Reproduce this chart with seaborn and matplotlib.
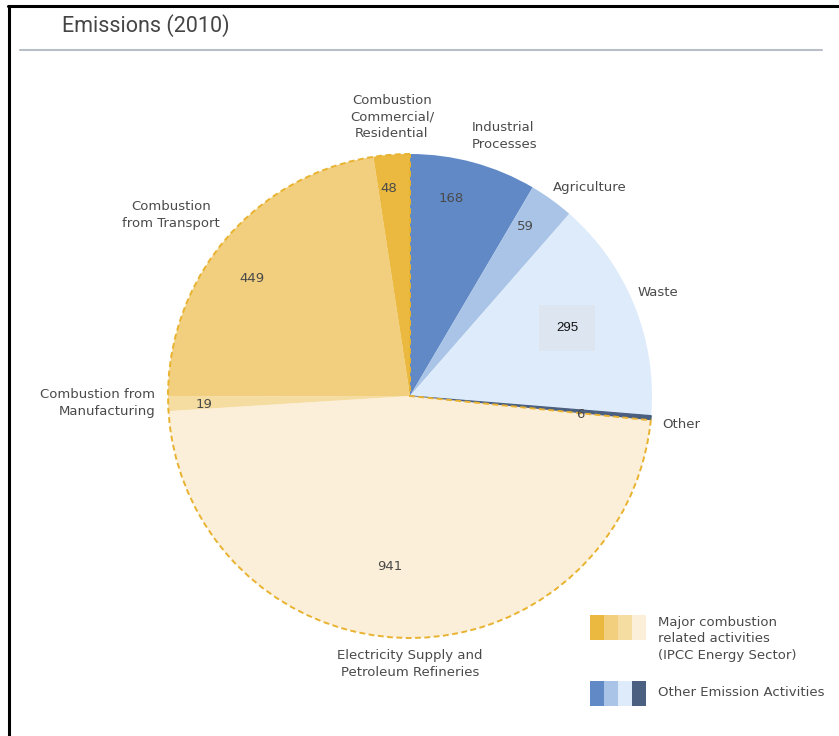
import matplotlib
matplotlib.use("Agg")
import matplotlib.pyplot as plt
from matplotlib.patches import Wedge, Rectangle
from matplotlib.lines import Line2D
import seaborn as sns

# ---- data ----
categories = ["Industrial Processes", "Agriculture", "Waste", "Other",
              "Electricity Supply and Petroleum Refineries",
              "Combustion from Manufacturing", "Combustion from Transport",
              "Combustion Commercial/Residential"]
values = [168, 59, 295, 6, 941, 19, 449, 48]
groups = ["other", "other", "other", "other", "major", "major", "major", "major"]
slice_labels = ["Industrial\nProcesses", "Agriculture", "Waste", "Other",
                "Electricity Supply and\nPetroleum Refineries",
                "Combustion from\nManufacturing", "Combustion\nfrom Transport",
                "Combustion\nCommercial/\nResidential"]
blue_palette = ["#6189c6", "#a9c4e6", "#ddebfa", "#4b5f80"]
gold_palette = ["#ebb93f", "#f2cf7e", "#f5dca0", "#fcefd9"]
slice_colors = [blue_palette[0], blue_palette[1], blue_palette[2], blue_palette[3],
                gold_palette[3], gold_palette[2], gold_palette[1], gold_palette[0]]
legend_labels = ["Major combustion\nrelated activities\n(IPCC Energy Sector)",
                 "Other Emission Activities"]
title = "Emissions (2010)"

sns.set_theme(style="white")
plt.rcParams["font.family"] = ["DejaVu Sans"]

W, H = 839, 736
fig = plt.figure(figsize=(W / 100, H / 100), dpi=100)
ax = fig.add_axes([0, 0, 1, 1])

def Y(y):
    return H - y

cx, cy, R = 410, Y(396), 242
wedges, _ = ax.pie(values, colors=slice_colors, startangle=90, counterclock=False,
                   center=(cx, cy), radius=R, wedgeprops=dict(linewidth=0))
wedges[3].set_edgecolor("#4b5f80")
wedges[3].set_linewidth(0.9)

# dashed outline around the major-combustion group
maj = [w for w, g in zip(wedges, groups) if g == "major"]
t1 = min(w.theta1 for w in maj)
t2 = max(w.theta2 for w in maj)
ax.add_patch(Wedge((cx, cy), R, t1, t2, fill=False, edgecolor="#e8b330",
                   linewidth=1.4, linestyle=(0, (3.0, 1.8)), zorder=5))

ax.set_xlim(0, W)
ax.set_ylim(0, H)
ax.set_aspect("auto")
ax.axis("off")

txt_c = "#4a4a4a"
fs = 9.5
# category labels
ax.text(392, Y(117), slice_labels[7], ha="center", va="center", fontsize=fs, color=txt_c, linespacing=1.35)
ax.text(472, Y(136), slice_labels[0], ha="left", va="center", fontsize=fs, color=txt_c, linespacing=1.35)
ax.text(553, Y(188), slice_labels[1], ha="left", va="center", fontsize=fs, color=txt_c)
ax.text(638, Y(293), slice_labels[2], ha="left", va="center", fontsize=fs, color=txt_c)
ax.text(662, Y(424), slice_labels[3], ha="left", va="center", fontsize=fs, color=txt_c)
ax.text(410, Y(664), slice_labels[4], ha="center", va="center", fontsize=fs, color=txt_c, linespacing=1.35)
ax.text(155, Y(403), slice_labels[5], ha="right", va="center", fontsize=fs, color=txt_c, linespacing=1.35)
ax.text(220, Y(215), slice_labels[6], ha="right", va="center", fontsize=fs, color=txt_c, linespacing=1.35, multialignment="center")

# value labels
val_pos = [(451, 198), (525, 226), (567, 328), (580, 414), (390, 567), (204, 404), (252, 278), (389, 188)]
for v, (x, y) in zip(values, val_pos):
    if v == 295:
        ax.text(x, Y(y), str(v), ha="center", va="center", fontsize=fs, color="#111111",
                family=["Liberation Sans"],
                bbox=dict(boxstyle="square,pad=1.3", fc="#dde6f0", ec="none"), zorder=6)
    else:
        ax.text(x, Y(y), str(v), ha="center", va="center", fontsize=fs, color=txt_c, zorder=6)

# legend
sw = 14
for i, c in enumerate(gold_palette):
    ax.add_patch(Rectangle((590 + i * sw, Y(640)), sw, 25, fc=c, ec="none"))
for i, c in enumerate(blue_palette):
    ax.add_patch(Rectangle((590 + i * sw, Y(706)), sw, 25, fc=c, ec="none"))
ax.text(658, Y(639), legend_labels[0], ha="left", va="center", fontsize=fs, color=txt_c, linespacing=1.38)
ax.text(658, Y(693), legend_labels[1], ha="left", va="center", fontsize=fs, color=txt_c)

# title and frame
ax.text(62, Y(26), title, ha="left", va="center", fontsize=15.5, color="#454545", family=["Roboto"])
ax.add_line(Line2D([20, 822], [Y(49.5), Y(49.5)], color="#b9bdc7", lw=1.5))
ax.add_line(Line2D([9, 9], [0, Y(6)], color="black", lw=2.2))
ax.add_line(Line2D([8, W], [Y(6), Y(6)], color="black", lw=2.2))

fig.savefig("out.png", dpi=100, facecolor="white")
